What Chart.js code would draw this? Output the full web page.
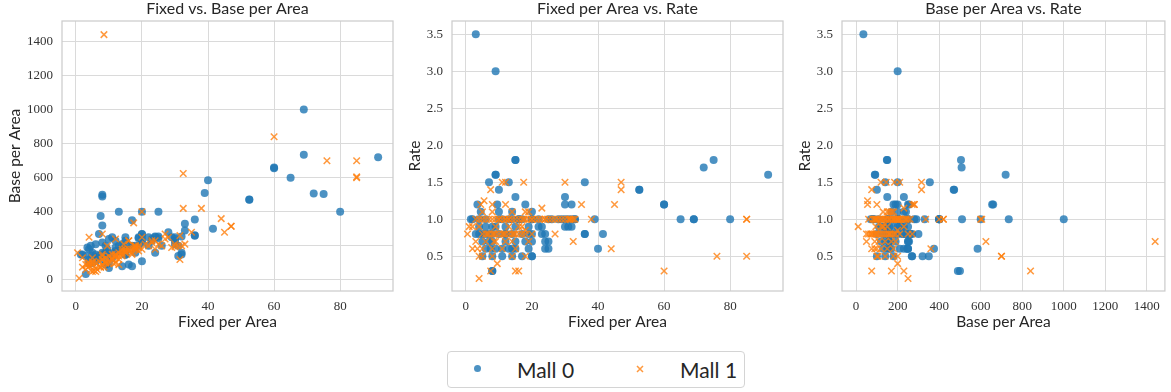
<!DOCTYPE html>
<html>
<head>
<meta charset="utf-8">
<script src="https://cdn.jsdelivr.net/npm/chart.js@4.4.0/dist/chart.umd.min.js"></script>
<style>
  body { margin: 0; background: #fff; width: 1171px; height: 392px; position: relative; overflow: hidden; font-family: Lato, sans-serif; }
  .panel { position: absolute; top: 0; }
  #legend { position: absolute; left: 447px; top: 351px; width: 296px; height: 35px; border: 1px solid #d4d4d4; border-radius: 4px; background: #fff; }
  #legend .lbl { position: absolute; top: 0; line-height: 35px; font-size: 21px; color: #262626; }
  #legend .dot { position: absolute; left: 26px; top: 13px; width: 7px; height: 7px; border-radius: 50%; background: rgba(31,119,180,0.8); }
  #legend svg { position: absolute; left: 188px; top: 13px; }
</style>
</head>
<body>
<div class="panel" style="left:0px"><canvas id="c1" width="400" height="340"></canvas></div>
<div class="panel" style="left:400px"><canvas id="c2" width="390" height="340"></canvas></div>
<div class="panel" style="left:790px"><canvas id="c3" width="381" height="340"></canvas></div>
<div id="legend">
  <span class="dot"></span><span class="lbl" style="left:69px">Mall 0</span>
  <svg width="8" height="8"><path d="M1 1L7 7M1 7L7 1" stroke="rgba(255,127,14,0.8)" stroke-width="1.5"/></svg>
  <span class="lbl" style="left:232px">Mall 1</span>
</div>
<script>
// Mall 0
const mall0Fixed = [
  3, 9, 69, 91.5, 75, 72, 69, 80, 65, 60,
  60, 52.5, 52.5, 40, 39, 41.5, 36, 36, 36, 33,
  8, 8, 7.5, 8, 17, 13, 25, 20, 15, 15,
  9, 9, 10, 7, 13, 15, 9.5, 18, 30, 32,
  30, 5, 11, 14, 20, 20, 6, 9, 13, 14,
  15, 19, 24, 25, 5, 8, 12, 20, 25, 4,
  6, 8, 10, 12, 14, 17, 20, 23, 24, 4,
  6, 9, 12, 15, 19, 23, 30, 31, 32, 1.5,
  4, 6, 10, 14, 16, 17, 20, 22, 26, 28,
  29, 30, 31, 32, 33, 4.5, 10, 14, 20, 3.5,
  7, 11, 15, 19, 22, 12, 16, 18, 2, 5,
  8, 24, 3, 11, 7
];
const mall0Base = [
  35, 200, 1000, 720, 505, 508, 735, 400, 600, 660,
  655, 470, 472, 585, 510, 300, 355, 260, 262, 330,
  490, 500, 375, 320, 350, 400, 400, 400, 148, 150,
  90, 92, 100, 140, 200, 150, 180, 200, 250, 255,
  230, 100, 140, 180, 270, 268, 150, 160, 170, 210,
  230, 250, 250, 245, 140, 160, 190, 250, 255, 100,
  130, 150, 160, 170, 185, 200, 220, 240, 255, 120,
  110, 140, 160, 180, 200, 230, 210, 140, 150, 150,
  180, 210, 70, 80, 90, 80, 110, 200, 200, 280,
  250, 240, 200, 160, 290, 200, 240, 170, 230, 190,
  270, 250, 250, 245, 250, 230, 200, 160, 150, 160,
  220, 160, 140, 130, 120
];
const mall0Rate = [
  3.5, 3.0, 1.0, 1.6, 1.8, 1.7, 1.0, 1.0, 1.0, 1.2,
  1.2, 1.4, 1.4, 0.6, 1.0, 0.8, 1.5, 0.8, 0.8, 1.0,
  0.3, 0.3, 0.6, 0.5, 0.5, 1.0, 1.0, 1.0, 1.8, 1.8,
  1.6, 1.6, 1.4, 1.5, 1.5, 1.3, 1.2, 1.2, 1.2, 1.2,
  1.3, 0.5, 0.5, 0.5, 0.5, 0.5, 0.6, 0.6, 0.6, 0.6,
  0.6, 0.6, 0.6, 0.6, 0.7, 0.7, 0.7, 0.7, 0.7, 0.8,
  0.8, 0.8, 0.8, 0.8, 0.8, 0.8, 0.8, 0.8, 0.8, 0.9,
  0.9, 0.9, 0.9, 0.9, 0.9, 0.9, 0.9, 0.9, 0.9, 1.0,
  1.0, 1.0, 1.0, 1.0, 1.0, 1.0, 1.0, 1.0, 1.0, 1.0,
  1.0, 1.0, 1.0, 1.0, 1.0, 1.1, 1.1, 1.1, 1.1, 1.2,
  0.8, 1.0, 0.7, 0.8, 0.9, 0.8, 1.0, 0.7, 1.0, 0.8,
  0.9, 0.7, 0.8, 0.6, 0.7
];

// Mall 1
const mall1Fixed = [
  8.5, 60, 76, 85, 85, 85, 32.5, 32.5, 38, 44,
  45, 47, 47, 35, 31.5, 4, 7.5, 15, 16, 9.5,
  1, 0.5, 20, 17.5, 8, 27, 31.5, 32, 30, 23,
  11, 12, 17.5, 30, 7.5, 5.5, 4.5, 12, 5, 8,
  14, 18, 19, 3, 4, 5, 6, 7, 8, 9,
  10, 11, 12, 13, 14, 15, 16, 17, 18, 19,
  20, 21, 22, 23, 24, 25, 26, 27, 28, 29,
  31, 33, 24, 13, 10, 5, 6, 7, 8, 9,
  10, 11, 12, 13, 14, 15, 16, 17, 18, 6.5,
  8.5, 11.5, 14.5, 20, 4, 9, 13, 17, 18, 3,
  9, 12, 14, 19, 2, 3.5, 5, 8, 11, 15,
  4, 5, 8, 14, 18, 12, 16, 2, 6
];
const mall1Base = [
  1440, 840, 700, 700, 600, 605, 625, 420, 420, 360,
  280, 315, 315, 280, 120, 250, 75, 170, 230, 200,
  10, 160, 400, 335, 270, 270, 260, 200, 195, 230,
  120, 145, 185, 210, 75, 55, 55, 100, 130, 150,
  160, 180, 170, 60, 80, 90, 100, 110, 120, 100,
  140, 130, 150, 160, 140, 170, 180, 160, 190, 200,
  180, 210, 200, 220, 230, 210, 200, 240, 250, 190,
  200, 210, 180, 90, 95, 50, 70, 80, 90, 100,
  110, 120, 130, 140, 150, 160, 170, 180, 190, 60,
  75, 95, 210, 250, 95, 130, 120, 150, 200, 90,
  110, 140, 170, 190, 75, 90, 100, 120, 150, 180,
  100, 105, 140, 180, 200, 240, 230, 130, 50
];
const mall1Rate = [
  0.7, 0.3, 0.5, 0.5, 1.0, 1.0, 0.7, 1.0, 1.0, 0.6,
  1.2, 1.5, 1.4, 1.2, 1.0, 0.2, 0.3, 0.3, 0.3, 0.4,
  0.9, 0.8, 1.0, 1.0, 1.2, 0.8, 1.0, 1.0, 1.0, 1.15,
  1.5, 1.5, 1.5, 1.5, 1.4, 1.25, 1.2, 1.2, 1.1, 1.1,
  1.1, 1.1, 1.1, 1.0, 1.0, 1.0, 1.0, 1.0, 1.0, 1.0,
  1.0, 1.0, 1.0, 1.0, 1.0, 1.0, 1.0, 1.0, 1.0, 1.0,
  1.0, 1.0, 1.0, 1.0, 1.0, 1.0, 1.0, 1.0, 1.0, 1.0,
  1.0, 1.0, 1.0, 1.0, 1.0, 0.8, 0.8, 0.8, 0.8, 0.8,
  0.8, 0.8, 0.8, 0.8, 0.8, 0.8, 0.8, 0.8, 0.8, 0.8,
  0.8, 0.8, 0.8, 0.8, 0.9, 0.9, 0.9, 0.9, 0.85, 0.7,
  0.7, 0.7, 0.7, 0.7, 0.6, 0.6, 0.6, 0.6, 0.6, 0.6,
  0.5, 0.5, 0.5, 0.5, 0.5, 1.0, 0.9, 0.9, 0.7
];

const fixedTicks = [0, 20, 40, 60, 80];
const baseTicks = [0, 200, 400, 600, 800, 1000, 1200, 1400];
const rateTicks = [0.5, 1.0, 1.5, 2.0, 2.5, 3.0, 3.5];

const gridColor = '#dadada';
const frameColor = '#cccccc';
const textColor = '#262626';
const labelFont = { family: 'Lato', size: 15.5 };
const tickFont = { family: 'Liberation Serif', size: 13 };

function pairs(xs, ys) {
  return xs.map((x, i) => ({ x: x, y: ys[i] }));
}

// frame round the plot area + title centred over the axes
const framePlugin = {
  id: 'frame',
  beforeDatasetsDraw(chart) {
    const a = chart.chartArea, ctx = chart.ctx;
    ctx.save();
    ctx.strokeStyle = frameColor;
    ctx.lineWidth = 1.25;
    ctx.strokeRect(a.left, a.top, a.right - a.left, a.bottom - a.top);
    ctx.restore();
  },
  afterDraw(chart, args, opts) {
    const a = chart.chartArea, ctx = chart.ctx;
    ctx.save();
    ctx.fillStyle = textColor;
    ctx.font = '16px Lato';
    ctx.textAlign = 'center';
    ctx.textBaseline = 'middle';
    ctx.fillText(opts.text, (a.left + a.right) / 2, 9);
    ctx.restore();
  }
};

function axis(label, min, max, ticks, fmt, isX, yWidth) {
  return {
    type: 'linear',
    position: isX ? 'bottom' : 'left',
    min: min,
    max: max,
    afterBuildTicks: s => { s.ticks = ticks.map(v => ({ value: v })); },
    afterFit: s => { if (isX) s.height = 49; else s.width = yWidth; },
    ticks: { padding: isX ? 8 : 9, color: '#333', font: tickFont, maxRotation: 0, autoSkip: false, callback: fmt },
    grid: { color: gridColor, lineWidth: 1, drawTicks: false },
    border: { display: false },
    title: {
      display: true, text: label, color: textColor, font: labelFont,
      padding: isX ? { top: 0, bottom: 8.7 } : { top: 5.7, bottom: 0 }
    }
  };
}

const intFmt = v => String(v);
const rateFmt = v => v.toFixed(1);

function makeChart(id, title, xs0, ys0, xs1, ys1, xAxis, yAxis, padRight) {
  new Chart(document.getElementById(id), {
    type: 'scatter',
    data: {
      datasets: [{
        label: 'Mall 0',
        data: pairs(xs0, ys0),
        order: 1,
        pointStyle: 'circle',
        pointRadius: 4,
        backgroundColor: 'rgba(31,119,180,0.8)',
        borderWidth: 0
      }, {
        label: 'Mall 1',
        data: pairs(xs1, ys1),
        order: 0,
        pointStyle: 'crossRot',
        pointRadius: 4.6,
        borderColor: 'rgba(255,127,14,0.8)',
        borderWidth: 1.5
      }]
    },
    options: {
      responsive: false,
      animation: false,
      layout: { padding: { top: 21, right: padRight, bottom: 0, left: 0 } },
      scales: { x: xAxis, y: yAxis },
      plugins: {
        legend: { display: false },
        tooltip: { enabled: false },
        frame: { text: title }
      }
    },
    plugins: [framePlugin]
  });
}

makeChart('c1', 'Fixed vs. Base per Area',
  mall0Fixed, mall0Base, mall1Fixed, mall1Base,
  axis('Fixed per Area', -4.2, 96, fixedTicks, intFmt, true),
  axis('Base per Area', -65, 1520, baseTicks, intFmt, false, 62), 7);

makeChart('c2', 'Fixed per Area vs. Rate',
  mall0Fixed, mall0Rate, mall1Fixed, mall1Rate,
  axis('Fixed per Area', -4.2, 96, fixedTicks, intFmt, true),
  axis('Rate', 0.03, 3.68, rateTicks, rateFmt, false, 52), 7);

makeChart('c3', 'Base per Area vs. Rate',
  mall0Base, mall0Rate, mall1Base, mall1Rate,
  axis('Base per Area', -68, 1487, baseTicks, intFmt, true),
  axis('Rate', 0.03, 3.68, rateTicks, rateFmt, false, 52), 1);
</script>
</body>
</html>
